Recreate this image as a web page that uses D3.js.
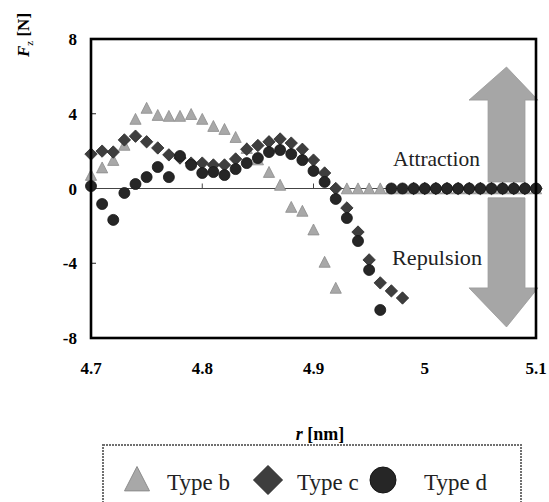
<!DOCTYPE html>
<html>
<head>
<meta charset="utf-8">
<script src="https://cdn.jsdelivr.net/npm/d3@7"></script>
<style>
  html, body { margin: 0; padding: 0; background: #fff; }
  svg { display: block; }
</style>
</head>
<body>
<div id="chart"></div>
<script>
// Separation r [nm] of each sample
const rValues = [4.70, 4.71, 4.72, 4.73, 4.74, 4.75, 4.76, 4.77, 4.78, 4.79,
                 4.80, 4.81, 4.82, 4.83, 4.84, 4.85, 4.86, 4.87, 4.88, 4.89,
                 4.90, 4.91, 4.92, 4.93, 4.94, 4.95, 4.96, 4.97, 4.98, 4.99,
                 5.00, 5.01, 5.02, 5.03, 5.04, 5.05, 5.06, 5.07, 5.08, 5.09, 5.10];

// Force F_z [N] for each type
const typeB = [0.72, 1.12, 1.52, 2.33, 3.72, 4.31, 3.93, 3.88, 3.88, 3.98,
               3.72, 3.34, 3.18, 2.75, 2.16, 1.55, 0.88, 0.19, -0.99, -1.20,
               -2.20, -3.93, -5.32, 0, 0, 0, 0, 0, 0, 0,
               0, 0, 0, 0, 0, 0, 0, 0, 0, 0, 0];
const typeC = [1.84, 2.00, 1.95, 2.60, 2.80, 2.50, 2.17, 1.80, 1.63, 1.36,
               1.36, 1.26, 1.26, 1.58, 2.10, 2.30, 2.50, 2.65, 2.43, 2.10,
               1.52, 0.83, 0.00, -1.04, -2.33, -3.82, -5.05, -5.48, -5.86, 0,
               0, 0, 0, 0, 0, 0, 0, 0, 0, 0, 0];
const typeD = [0.13, -0.83, -1.68, -0.24, 0.24, 0.61, 1.15, 0.61, 1.74, 1.26,
               0.83, 0.88, 0.72, 1.04, 1.36, 1.63, 1.95, 2.06, 1.84, 1.52,
               0.94, 0.35, -0.56, -1.58, -2.81, -4.36, -6.50, 0, 0, 0,
               0, 0, 0, 0, 0, 0, 0, 0, 0, 0, 0];

const seriesNames = ["Type b", "Type c", "Type d"];
const xTicks = [4.7, 4.8, 4.9, 5.0, 5.1];
const xTickLabels = ["4.7", "4.8", "4.9", "5", "5.1"];
const yTicks = [-8, -4, 0, 4, 8];
const yTickLabels = ["-8", "-4", "0", "4", "8"];

const W = 549, H = 502;
const FONT = '"Liberation Serif"';
const svg = d3.select("#chart").append("svg")
  .attr("width", W).attr("height", H);

// every label uses the same Times-like face
const txt = (sel) => sel.style("font-family", FONT);

const x = d3.scaleLinear().domain([4.7, 5.1]).range([91, 536]);
const y = d3.scaleLinear().domain([-8, 8]).range([338, 39]);

// marker shapes
const triPath = (s) => `M0,${-s}L${s * 1.0},${s * 0.95}L${-s * 1.0},${s * 0.95}Z`;
const diaPath = (s) => `M0,${-s}L${s},0L0,${s}L${-s},0Z`;

const styles = [
  { fill: "#a8a8a8", stroke: "#8c8c8c" },
  { fill: "#3e3e3e", stroke: "#2a2a2a" },
  { fill: "#262626", stroke: "#151515" }
];

// Attraction / repulsion arrows
const arrowColor = "#a6a6a6";
const upArrow = [
  [5.0735, 6.5], [5.1018, 4.73], [5.0901, 4.73], [5.0901, 0.35],
  [5.0569, 0.35], [5.0569, 4.73], [5.0398, 4.73]
];
const downArrow = [
  [5.0735, -7.41], [5.1018, -5.32], [5.0901, -5.32], [5.0901, -0.5],
  [5.0569, -0.5], [5.0569, -5.32], [5.0398, -5.32]
];
const arrowLine = d3.line().x(d => x(d[0])).y(d => y(d[1]));
[upArrow, downArrow].forEach(a => {
  svg.append("path")
    .attr("d", arrowLine(a) + "Z")
    .attr("fill", arrowColor)
    .attr("stroke", "#9a9a9a")
    .attr("stroke-width", 0.8);
});

txt(svg.append("text")).attr("x", 393).attr("y", 166)
  .attr("font-size", 22).attr("fill", "#222")
  .attr("textLength", 87).attr("lengthAdjust", "spacingAndGlyphs")
  .text("Attraction");
txt(svg.append("text")).attr("x", 392).attr("y", 265)
  .attr("font-size", 22).attr("fill", "#222")
  .attr("textLength", 90).attr("lengthAdjust", "spacingAndGlyphs")
  .text("Repulsion");

// zero line with its ticks
svg.append("line")
  .attr("x1", x(4.7)).attr("x2", x(5.1))
  .attr("y1", y(0)).attr("y2", y(0))
  .attr("stroke", "#444").attr("stroke-width", 1);
svg.append("g").selectAll("line").data(xTicks.slice(1, -1)).join("line")
  .attr("x1", d => x(d)).attr("x2", d => x(d))
  .attr("y1", y(0)).attr("y2", y(0) - 5)
  .attr("stroke", "#444").attr("stroke-width", 1);

// y ticks on the left edge
svg.append("g").selectAll("line").data(yTicks).join("line")
  .attr("x1", x(4.7)).attr("x2", x(4.7) + 5)
  .attr("y1", d => y(d)).attr("y2", d => y(d))
  .attr("stroke", "#222").attr("stroke-width", 1);

// data series (b, c, d in drawing order)
const allSeries = [typeB, typeC, typeD];
allSeries.forEach((vals, si) => {
  const pts = rValues.map((r, i) => ({ r, f: vals[i] }));
  const g = svg.append("g");
  const st = styles[si];
  if (si === 2) {
    g.selectAll("circle").data(pts).join("circle")
      .attr("cx", d => x(d.r)).attr("cy", d => y(d.f)).attr("r", 5.5)
      .attr("fill", st.fill).attr("stroke", st.stroke).attr("stroke-width", 0.8);
  } else {
    g.selectAll("path").data(pts).join("path")
      .attr("transform", d => `translate(${x(d.r)},${y(d.f)})`)
      .attr("d", si === 0 ? triPath(5.6) : diaPath(6.2))
      .attr("fill", st.fill).attr("stroke", st.stroke).attr("stroke-width", 0.8);
  }
});

// plot frame
svg.append("rect")
  .attr("x", x(4.7)).attr("y", y(8))
  .attr("width", x(5.1) - x(4.7)).attr("height", y(-8) - y(8))
  .attr("fill", "none").attr("stroke", "#000").attr("stroke-width", 2.6);

// tick labels
txt(svg.append("g").selectAll("text").data(xTicks).join("text"))
  .attr("x", d => x(d)).attr("y", 374)
  .attr("text-anchor", "middle").attr("font-size", 17).attr("font-weight", "bold")
  .text((d, i) => xTickLabels[i]);
txt(svg.append("g").selectAll("text").data(yTicks).join("text"))
  .attr("x", 77).attr("y", d => y(d) + 6)
  .attr("text-anchor", "end").attr("font-size", 17).attr("font-weight", "bold")
  .text((d, i) => yTickLabels[i]);

// axis titles
const xt = txt(svg.append("text")).attr("x", 320).attr("y", 440)
  .attr("text-anchor", "middle").attr("font-size", 18);
xt.append("tspan").attr("font-style", "italic").attr("font-weight", "bold").text("r");
xt.append("tspan").attr("font-weight", "bold").text(" [nm]");

const yt = txt(svg.append("text"))
  .attr("transform", "translate(29,35) rotate(-90)")
  .attr("text-anchor", "middle").attr("font-size", 17);
yt.append("tspan").attr("font-style", "italic").attr("font-weight", "bold").text("F");
yt.append("tspan").attr("font-size", 11).attr("dy", 4).text("z");
yt.append("tspan").attr("font-weight", "bold").attr("dy", -4).text(" [N]");

// legend
const legend = svg.append("g");
legend.append("rect")
  .attr("x", 103).attr("y", 445).attr("width", 418).attr("height", 70)
  .attr("fill", "#fff").attr("stroke", "#707070").attr("stroke-width", 2)
  .attr("stroke-dasharray", "2,1");
const legendItems = [
  { mx: 137, tx: 167 },
  { mx: 268, tx: 297 },
  { mx: 383, tx: 424 }
];
legendItems.forEach((it, i) => {
  const st = styles[i];
  if (i === 2) {
    legend.append("circle").attr("cx", it.mx).attr("cy", 480).attr("r", 13)
      .attr("fill", st.fill).attr("stroke", st.stroke);
  } else {
    legend.append("path")
      .attr("transform", `translate(${it.mx},${i === 0 ? 479 : 480})`)
      .attr("d", i === 0 ? triPath(12.5) : diaPath(14.5))
      .attr("fill", st.fill).attr("stroke", st.stroke);
  }
  txt(legend.append("text")).attr("x", it.tx).attr("y", 490)
    .attr("font-size", 23).attr("fill", "#222")
    .text(seriesNames[i]);
});
</script>
</body>
</html>
